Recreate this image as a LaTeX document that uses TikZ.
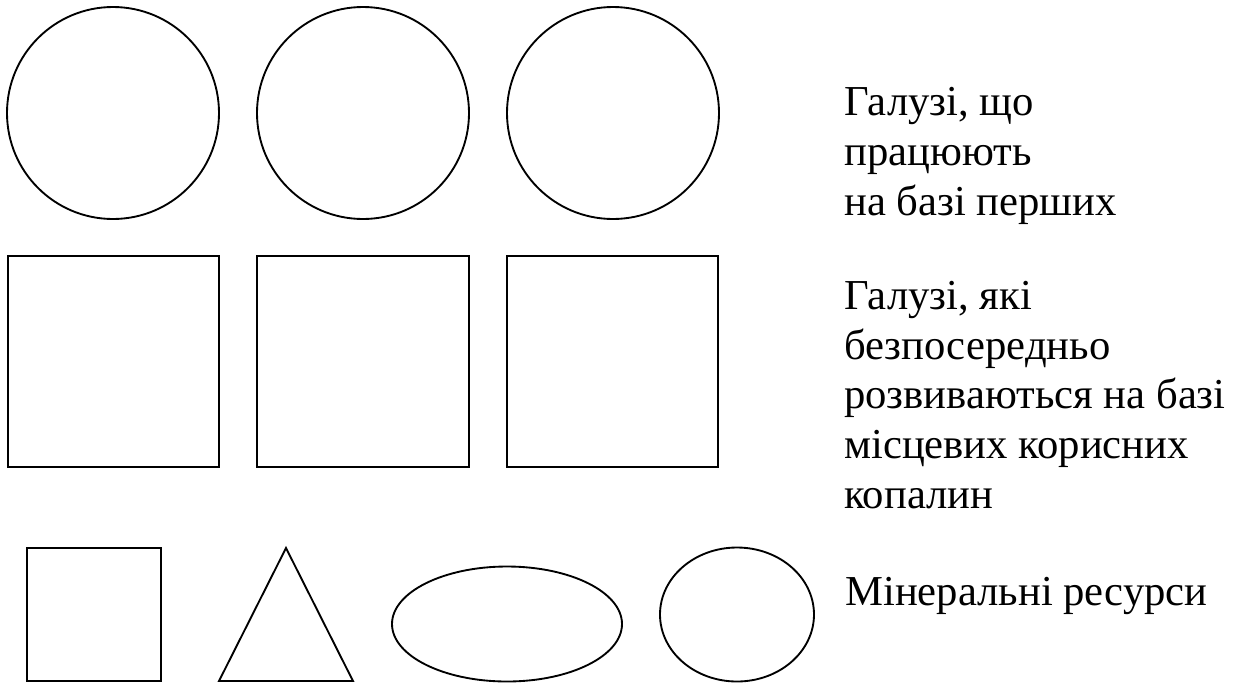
\documentclass[tikz,border=0pt]{standalone}
\usepackage{fontspec}
\setmainfont{Liberation Serif}

\begin{document}
\begin{tikzpicture}[x=0.75pt,y=-0.75pt]
\useasboundingbox (0,0) rectangle (1243,683);

  \draw[line width=1.4pt](113,113) circle (106);
  \draw[line width=1.4pt](363,113) circle (106);
  \draw[line width=1.4pt](613,113) circle (106);

\draw[line width=1.4pt](8,256) rectangle (219,467);
\draw[line width=1.4pt](257,256) rectangle (469,467);
\draw[line width=1.4pt](507,256) rectangle (718,467);

\draw[line width=1.4pt](27,548) rectangle (161,681);
\draw[line width=1.4pt](286,548)--(353,681)--(219,681)--cycle;
\draw[line width=1.4pt](507,624) ellipse [x radius=115, y radius=57.5];
\draw[line width=1.4pt](737,614.5) ellipse [x radius=77, y radius=67];

  % base of a multi-line node = baseline of its last line
  \node[anchor=base west, inner sep=0pt, align=left, font=\fontsize{32}{37.25}\selectfont] (textTop) at (844,215) {Галузі, що\\працюють\\на базі перших};
  \node[anchor=base west, inner sep=0pt, align=left, font=\fontsize{32}{37.25}\selectfont] (textMid) at (844,508) {Галузі, які\\безпосередньо\\розвиваються на базі\\місцевих корисних\\копалин};
  \node[anchor=base west, inner sep=0pt, font=\fontsize{32}{37.25}\selectfont] (textBot) at (845,605) {Мінеральні ресурси};
\end{tikzpicture}
\end{document}
